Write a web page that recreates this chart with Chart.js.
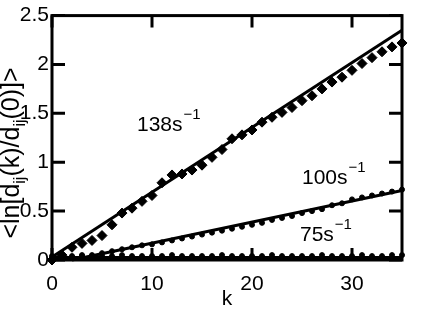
<!DOCTYPE html>
<html>
<head>
<meta charset="utf-8">
<script src="https://cdn.jsdelivr.net/npm/chart.js@4.4.1/dist/chart.umd.min.js"></script>
<style>
  html, body { margin: 0; padding: 0; background: #fff; }
</style>
</head>
<body>
<canvas id="chart" width="436" height="310"></canvas>
<script>
const kValues = [0, 1, 2, 3, 4, 5, 6, 7, 8, 9, 10, 11, 12, 13, 14, 15, 16, 17,
  18, 19, 20, 21, 22, 23, 24, 25, 26, 27, 28, 29, 30, 31, 32, 33, 34, 35];

// measured <ln[dij(k)/dij(0)]> for each shear rate
const rate138 = [0.0, 0.05, 0.13, 0.17, 0.20, 0.25, 0.36, 0.48, 0.53, 0.60, 0.66, 0.79,
  0.87, 0.88, 0.92, 0.97, 1.05, 1.13, 1.24, 1.28, 1.33, 1.41, 1.46, 1.51, 1.56, 1.63,
  1.68, 1.75, 1.82, 1.87, 1.94, 2.01, 2.07, 2.13, 2.18, 2.22];
const rate100 = [0.02, 0.02, 0.03, 0.04, 0.05, 0.07, 0.09, 0.11, 0.13, 0.15, 0.16, 0.18,
  0.20, 0.22, 0.24, 0.26, 0.28, 0.30, 0.32, 0.34, 0.36, 0.38, 0.41, 0.43, 0.45, 0.48,
  0.50, 0.52, 0.56, 0.58, 0.62, 0.64, 0.66, 0.68, 0.70, 0.72];
const rate75 = [0.04, 0.04, 0.04, 0.05, 0.04, 0.04, 0.04, 0.05, 0.04, 0.04, 0.04, 0.04,
  0.05, 0.04, 0.04, 0.04, 0.04, 0.05, 0.04, 0.04, 0.04, 0.04, 0.05, 0.04, 0.04, 0.04,
  0.04, 0.05, 0.04, 0.04, 0.04, 0.05, 0.04, 0.04, 0.05, 0.05];

// straight-line fits: [k start, k end] and values
const fitK138 = [0, 35], fitV138 = [0.03, 2.35];
const fitK100 = [2, 35], fitV100 = [0.0, 0.71];
const fitK75 = [0, 35], fitV75 = [0.025, 0.025];

const xTickVals = [0, 10, 20, 30];
const yTickVals = [0, 0.5, 1, 1.5, 2, 2.5];

const rateLabels = ['138s', '100s', '75s'];
const labelK = [8.5, 25.0, 24.8];
const labelV = [1.38, 0.84, 0.255];

const FONT = "'Liberation Sans', Arial, Helvetica, sans-serif";

function pts(xs, ys) {
  return xs.map((x, i) => ({ x, y: ys[i] }));
}

const framePlugin = {
  id: 'frame',
  afterDraw(chart) {
    const { ctx, chartArea: a, scales: { x, y } } = chart;
    ctx.save();
    ctx.strokeStyle = '#000';
    ctx.lineWidth = 3;
    ctx.strokeRect(a.left, a.top, a.right - a.left, a.bottom - a.top);
    ctx.beginPath();
    xTickVals.forEach((v) => {
      const px = x.getPixelForValue(v);
      ctx.moveTo(px, a.bottom); ctx.lineTo(px, a.bottom - 12);
      ctx.moveTo(px, a.top); ctx.lineTo(px, a.top + 12);
    });
    yTickVals.forEach((v) => {
      const py = y.getPixelForValue(v);
      ctx.moveTo(a.left, py); ctx.lineTo(a.left + 13, py);
      ctx.moveTo(a.right, py); ctx.lineTo(a.right - 13, py);
    });
    ctx.stroke();

    ctx.fillStyle = '#000';
    // rate labels with superscript
    rateLabels.forEach((t, i) => {
      const px = x.getPixelForValue(labelK[i]);
      const py = y.getPixelForValue(labelV[i]);
      ctx.font = `21px ${FONT}`;
      ctx.textAlign = 'left';
      ctx.textBaseline = 'middle';
      ctx.fillText(t, px, py);
      const w = ctx.measureText(t).width;
      ctx.font = `15px ${FONT}`;
      ctx.fillText('\u22121', px + w + 1, py - 10);
    });

    // x title
    ctx.font = `21px ${FONT}`;
    ctx.textAlign = 'center';
    ctx.textBaseline = 'middle';
    ctx.fillText('k', (a.left + a.right) / 2, a.bottom + 39);

    // y title, rotated, with ij subscripts
    const parts = [['<ln[d', 0], ['ij', 1], ['(k)/d', 0], ['ij', 1], ['(0)]>', 0]];
    const big = `25px ${FONT}`, small = `16px ${FONT}`;
    let total = 0;
    parts.forEach(([t, sub]) => { ctx.font = sub ? small : big; total += ctx.measureText(t).width; });
    ctx.translate(12, 153);
    ctx.rotate(-Math.PI / 2);
    ctx.textAlign = 'left';
    ctx.textBaseline = 'middle';
    let cx = -total / 2;
    parts.forEach(([t, sub]) => {
      ctx.font = sub ? small : big;
      ctx.fillText(t, cx, sub ? 9 : 0);
      cx += ctx.measureText(t).width;
    });
    ctx.restore();
  }
};

const markerBase = { showLine: false, borderColor: '#000', backgroundColor: '#000', clip: false };
const fitBase = { showLine: true, pointRadius: 0, borderColor: '#000', borderWidth: 3, clip: false };

new Chart(document.getElementById('chart'), {
  type: 'scatter',
  data: {
    datasets: [
      { ...fitBase, label: 'fit 138', data: pts(fitK138, fitV138) },
      { ...fitBase, label: 'fit 100', data: pts(fitK100, fitV100) },
      { ...fitBase, label: 'fit 75', data: pts(fitK75, fitV75) },
      { ...markerBase, label: '138 s-1', data: pts(kValues, rate138), pointStyle: 'rectRot', pointRadius: 5 },
      { ...markerBase, label: '100 s-1', data: pts(kValues, rate100), pointStyle: 'circle', pointRadius: 2.5 },
      { ...markerBase, label: '75 s-1', data: pts(kValues, rate75), pointStyle: 'circle', pointRadius: 2.5 },
    ],
  },
  options: {
    responsive: false,
    animation: false,
    devicePixelRatio: 1,
    layout: { padding: { top: 15, right: 34, left: 0, bottom: 0 } },
    plugins: { legend: { display: false }, tooltip: { enabled: false } },
    scales: {
      x: {
        type: 'linear', min: 0, max: 35,
        grid: { display: false, drawTicks: false },
        border: { display: false },
        afterBuildTicks: (s) => { s.ticks = xTickVals.map((v) => ({ value: v })); },
        afterFit: (s) => { s.height = 50; },
        ticks: { color: '#000', padding: 12, maxRotation: 0, font: { family: FONT, size: 21 }, callback: (v) => String(v) },
      },
      y: {
        type: 'linear', min: 0, max: 2.5,
        grid: { display: false, drawTicks: false },
        border: { display: false },
        afterBuildTicks: (s) => { s.ticks = yTickVals.map((v) => ({ value: v })); },
        afterFit: (s) => { s.width = 52; },
        ticks: { color: '#000', padding: 3, font: { family: FONT, size: 21 }, callback: (v) => String(v) },
      },
    },
  },
  plugins: [framePlugin],
});
</script>
</body>
</html>
